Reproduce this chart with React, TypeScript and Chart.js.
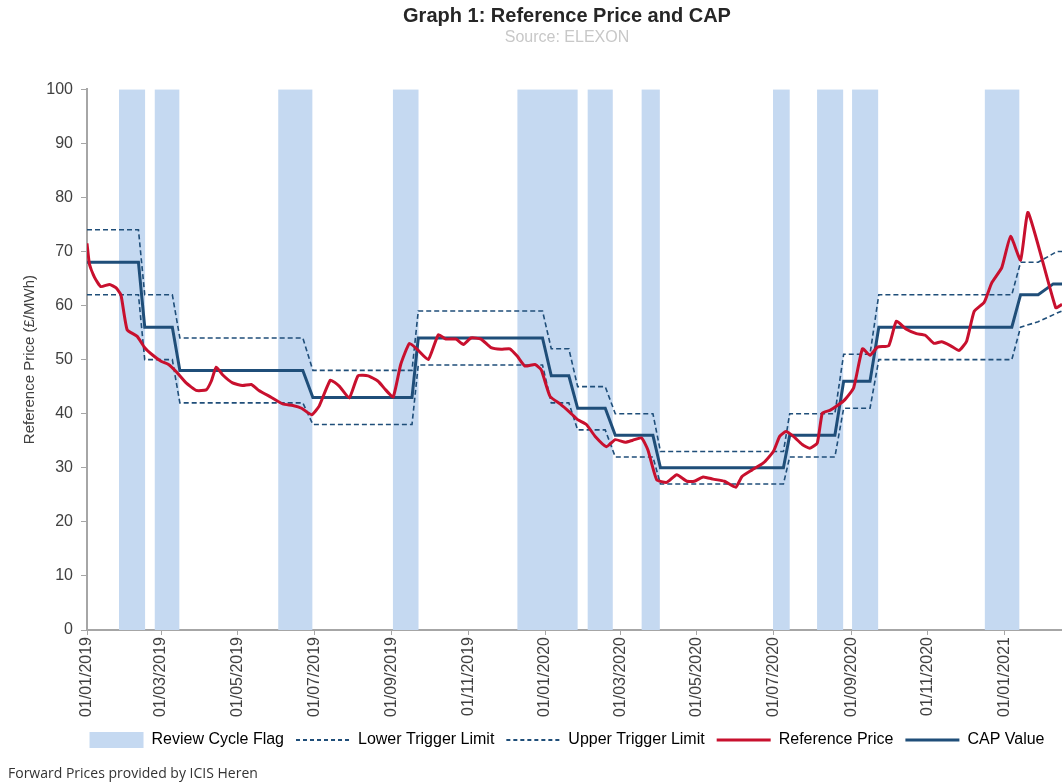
import React, { useEffect, useRef } from 'react';
import { Chart, registerables } from 'chart.js';

Chart.register(...registerables);

// ---- Data (x = days since 01/01/2019) ----
const tickLabels = [
  '01/01/2019', '01/03/2019', '01/05/2019', '01/07/2019', '01/09/2019', '01/11/2019',
  '01/01/2020', '01/03/2020', '01/05/2020', '01/07/2020', '01/09/2020', '01/11/2020',
  '01/01/2021',
];

const X_MAX = 777;

const flagStarts = [25.5, 54, 152.4, 243.8, 343, 399, 442, 546.7, 581.8, 609.7, 715.5];
const flagEnds = [46.3, 73.6, 179.6, 264.2, 391, 419, 456.5, 560, 602.6, 630.5, 743];

const capDays = [0, 41, 46, 68, 74, 172, 180, 259, 264, 363, 370, 384, 391, 413, 421, 451, 457, 555, 560, 596, 603, 624, 631, 737, 744, 758, 770, 777];
const capValues = [68, 68, 56, 56, 48, 48, 43, 43, 54, 54, 47, 47, 41, 41, 36, 36, 30, 30, 36, 36, 46, 46, 56, 56, 62, 62, 64, 64];

const limitDays = [0, 41, 46, 68, 74, 172, 180, 259, 264, 363, 370, 384, 391, 413, 421, 451, 457, 555, 560, 596, 603, 624, 631, 737, 744, 758, 773, 777];
const upperValues = [74, 74, 62, 62, 54, 54, 48, 48, 59, 59, 52, 52, 45, 45, 40, 40, 33, 33, 40, 40, 51, 51, 62, 62, 68, 68, 70, 70];
const lowerValues = [62, 62, 50, 50, 42, 42, 38, 38, 49, 49, 42, 42, 37, 37, 32, 32, 27, 27, 32, 32, 41, 41, 50, 50, 56, 57, 58.6, 59];

const refDays = [0, 2, 6, 11, 18, 23, 27, 32, 40, 46, 52, 59, 65, 71, 79, 87, 95, 99, 103, 108, 116, 124, 131, 137, 147, 156, 164, 171, 179, 185, 194, 201, 209, 216, 224, 232, 238, 244, 250, 257, 264, 272, 280, 286, 294, 300, 306, 314, 322, 330, 337, 343, 349, 357, 362, 369, 377, 385, 391, 398, 405, 414, 421, 429, 435, 442, 447, 454, 462, 470, 478, 484, 491, 499, 508, 517, 522, 530, 539, 547, 552, 557, 563, 570, 576, 582, 586, 592, 598, 604, 611, 618, 624, 630, 639, 645, 653, 661, 668, 675, 681, 688, 695, 701, 707, 715, 721, 729, 736, 744, 750, 772, 777];
const refValues = [71.5, 67.6, 65.2, 63.5, 63.9, 63.3, 62, 55.5, 54.3, 52.2, 50.9, 49.7, 49.1, 47.8, 45.7, 44.3, 44.4, 46, 48.6, 47.2, 45.7, 45.2, 45.4, 44.3, 43, 41.8, 41.5, 41, 39.8, 41.4, 46.2, 45.1, 42.9, 47, 47, 46, 44.4, 43.1, 49.1, 53, 51.7, 50, 54.6, 53.8, 53.8, 52.8, 54, 53.8, 52.2, 51.9, 52, 50.6, 48.8, 49.1, 48.1, 43.2, 41.8, 40.2, 38.9, 38, 35.8, 33.9, 35.2, 34.7, 35.1, 35.5, 33.3, 27.8, 27.3, 28.7, 27.5, 27.5, 28.3, 27.9, 27.5, 26.4, 28.4, 29.6, 30.9, 33, 35.8, 36.7, 35.8, 34.3, 33.6, 34.6, 40.1, 40.6, 41.5, 42.6, 44.8, 52, 50.8, 52.3, 52.6, 57.1, 55.6, 54.8, 54.5, 53, 53.3, 52.6, 51.7, 53.4, 58.9, 60.6, 64.2, 67, 72.8, 68.4, 77.2, 59.6, 60.2];

// ---- Styles ----
const FLAG = '#c5d9f1';
const DASH = '#1f4e79';
const CAP = '#1f4e79';
const RED = '#c8102e';
const AXIS = '#a6a6a6';
const TICK = '#404040';
const TEXT = '#262626';

const W = 1134;
const H = 782;
const PLOT_LEFT = 87;
const PLOT_RIGHT = 1062;

function dayOf(label: string): number {
  const [d, m, y] = label.split('/').map(Number);
  return (Date.UTC(y, m - 1, d) - Date.UTC(2019, 0, 1)) / 86400000;
}
const tickDays = tickLabels.map(dayOf);

const zip = (xs: number[], ys: number[]) => xs.map((x, i) => ({ x, y: ys[i] }));

export default function App() {
  const ref = useRef<HTMLCanvasElement>(null);

  useEffect(() => {
    if (!ref.current) return;
    Chart.defaults.font.family = '"Liberation Sans", Arial, sans-serif';

    const flagData: { x: number; y: number }[] = [{ x: 0, y: 0 }];
    flagStarts.forEach((s, i) => {
      flagData.push({ x: s, y: 100 }, { x: flagEnds[i], y: 0 });
    });
    flagData.push({ x: X_MAX, y: 0 });

    const chart = new Chart(ref.current, {
      type: 'line',
      data: {
        datasets: [
          {
            label: 'Review Cycle Flag',
            data: flagData,
            stepped: true,
            fill: 'origin',
            backgroundColor: FLAG,
            borderColor: 'transparent',
            borderWidth: 0,
            pointRadius: 0,
            order: 4,
          },
          {
            label: 'Lower Trigger Limit',
            data: zip(limitDays, lowerValues),
            borderColor: DASH,
            borderWidth: 1.6,
            borderDash: [5, 3],
            pointRadius: 0,
            fill: false,
            order: 3,
          },
          {
            label: 'Upper Trigger Limit',
            data: zip(limitDays, upperValues),
            borderColor: DASH,
            borderWidth: 1.6,
            borderDash: [5, 3],
            pointRadius: 0,
            fill: false,
            order: 3,
          },
          {
            label: 'Reference Price',
            data: zip(refDays, refValues),
            borderColor: RED,
            borderWidth: 3,
            pointRadius: 0,
            tension: 0.15,
            fill: false,
            order: 1,
          },
          {
            label: 'CAP Value',
            data: zip(capDays, capValues),
            borderColor: CAP,
            borderWidth: 3,
            pointRadius: 0,
            fill: false,
            order: 2,
          },
        ],
      },
      options: {
        responsive: false,
        animation: false,
        events: [],
        layout: { padding: { top: 0, left: 0, right: 0, bottom: 24 } },
        scales: {
          x: {
            type: 'linear',
            min: 0,
            max: X_MAX,
            afterBuildTicks: (s: any) => {
              s.ticks = tickDays.map((v) => ({ value: v }));
            },
            afterFit: (s: any) => {
              s.height = 90;
            },
            ticks: {
              autoSkip: false,
              minRotation: 90,
              maxRotation: 90,
              padding: 2,
              color: TICK,
              font: { size: 16 },
              callback: (_v: any, i: number) => tickLabels[i],
            },
            grid: { display: true, drawOnChartArea: false, drawTicks: true, tickLength: 5, color: AXIS },
            border: { display: true, color: AXIS, width: 2 },
          },
          y: {
            min: 0,
            max: 100,
            afterFit: (s: any) => {
              s.width = PLOT_LEFT;
            },
            ticks: { stepSize: 10, padding: 8, color: TICK, font: { size: 16 } },
            grid: { display: true, drawOnChartArea: false, drawTicks: true, tickLength: 6, color: AXIS },
            border: { display: true, color: AXIS, width: 2 },
            title: {
              display: true,
              text: 'Reference Price (£/MWh)',
              color: TICK,
              font: { size: 15 },
              padding: { top: 21, bottom: 0 },
            },
          },
          yR: {
            position: 'right',
            display: true,
            afterFit: (s: any) => {
              s.width = W - PLOT_RIGHT;
            },
            ticks: { display: false },
            grid: { display: false },
            border: { display: false },
          },
        },
        plugins: {
          tooltip: { enabled: false },
          title: {
            display: true,
            text: 'Graph 1: Reference Price and CAP',
            color: TEXT,
            font: { size: 20, weight: 'bold' },
            padding: { top: 4, bottom: 0 },
          },
          subtitle: {
            display: true,
            text: 'Source: ELEXON',
            color: '#c8c8c8',
            font: { size: 16 },
            padding: { top: 0, bottom: 42 },
          },
          legend: {
            position: 'bottom',
            labels: {
              usePointStyle: true,
              pointStyleWidth: 54,
              boxHeight: 16,
              padding: 12,
              color: TEXT,
              font: { size: 16 },
              generateLabels: () => [
                { text: 'Review Cycle Flag', fillStyle: FLAG, strokeStyle: FLAG, lineWidth: 0, pointStyle: 'rect', datasetIndex: 0, hidden: false },
                { text: 'Lower Trigger Limit', fillStyle: 'transparent', strokeStyle: DASH, lineWidth: 2, lineDash: [4, 3], pointStyle: 'line', datasetIndex: 1, hidden: false },
                { text: 'Upper Trigger Limit', fillStyle: 'transparent', strokeStyle: DASH, lineWidth: 2, lineDash: [4, 3], pointStyle: 'line', datasetIndex: 2, hidden: false },
                { text: 'Reference Price', fillStyle: 'transparent', strokeStyle: RED, lineWidth: 3, pointStyle: 'line', datasetIndex: 3, hidden: false },
                { text: 'CAP Value', fillStyle: 'transparent', strokeStyle: CAP, lineWidth: 3, pointStyle: 'line', datasetIndex: 4, hidden: false },
              ],
            },
          },
        },
      } as any,
    });
    return () => chart.destroy();
  }, []);

  return (
    <div
      style={{
        position: 'fixed',
        left: 0,
        top: 0,
        width: 1062,
        height: 782,
        overflow: 'hidden',
        background: '#ffffff',
      }}
    >
      <canvas ref={ref} width={W} height={H} style={{ width: W, height: H, display: 'block' }} />
      <div
        style={{
          position: 'absolute',
          left: 8,
          top: 763,
          fontFamily: '"Open Sans", sans-serif',
          fontSize: 14,
          color: '#333333',
          whiteSpace: 'nowrap',
        }}
      >
        Forward Prices provided by ICIS Heren
      </div>
    </div>
  );
}
